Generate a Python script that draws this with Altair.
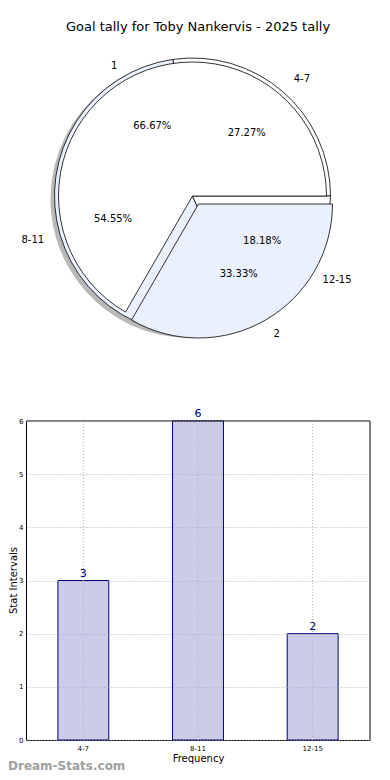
import math
import altair as alt
import pandas as pd

TITLE = "Goal tally for Toby Nankervis - 2025 tally"

# pie 1 : goal tally
tally_labels = ["1", "2"]
tally_values = [2, 1]
# pie 2 / bars : stat intervals
interval_labels = ["4-7", "8-11", "12-15"]
interval_values = [3, 6, 2]

y_ticks = [0, 1, 2, 3, 4, 5, 6]


def pie_frame(labels, values):
    total = sum(values)
    rows, acc = [], 0
    for lab, val in zip(labels, values):
        start = acc / total
        acc += val
        end = acc / total
        rows.append(dict(label=lab, value=val, start=start, end=end,
                         mid=(start + end) / 2,
                         pct=f"{100 * val / total:.2f}%"))
    return pd.DataFrame(rows)


tally_df = pie_frame(tally_labels, tally_values)
interval_df = pie_frame(interval_labels, interval_values)

PAD_L, PAD_T, PAD_R, PAD_B = 18, 30, 12, 32
W, H = 344, 702
CX, CY = 192.5 - 8 - PAD_L, 196 - 8 - PAD_T
R_A, R_B = 134, 138
EX, EY = 6, 8  # explode offset of wedge "2"
LABEL_DIST = 1.12

FONT = "DejaVu Sans"
BLUE = "#eaf0fc"

theta_scale = alt.Scale(domain=[0, 1], range=[5 * math.pi / 2, math.pi / 2])
color_scale = alt.Scale(domain=tally_labels + interval_labels,
                        range=["#ffffff", BLUE, "#ffffff", BLUE, "#ffffff"])


def wedges(df, r, cx, cy, flt=None):
    ch = alt.Chart(df)
    if flt is not None:
        ch = ch.transform_filter(flt)
    return ch.mark_arc(stroke="black", strokeWidth=0.8).encode(
        theta=alt.Theta("start:Q", scale=theta_scale),
        theta2="end:Q",
        radius=alt.value(r),
        x=alt.value(cx), y=alt.value(cy),
        color=alt.Color("label:N", scale=color_scale, legend=None),
    )


def pct_text(df, r, cx, cy, flt=None):
    ch = alt.Chart(df)
    if flt is not None:
        ch = ch.transform_filter(flt)
    return ch.mark_text(fontSize=10, font=FONT, color="black").encode(
        theta=alt.Theta("mid:Q", scale=theta_scale),
        radius=alt.value(r * 0.6),
        x=alt.value(cx), y=alt.value(cy),
        text="pct:N",
    )


def outer_text(df, r, cx, cy, flt=None):
    out = []
    for side, align in (("cos(2*PI*datum.mid) > 0", "left"),
                        ("cos(2*PI*datum.mid) <= 0", "right")):
        ch = alt.Chart(df)
        if flt is not None:
            ch = ch.transform_filter(flt)
        ch = ch.transform_filter(side).mark_text(
            fontSize=10, font=FONT, color="black", align=align, baseline="middle"
        ).encode(
            theta=alt.Theta("mid:Q", scale=theta_scale),
            radius=alt.value(r * LABEL_DIST),
            x=alt.value(cx), y=alt.value(cy),
            text="label:N",
        )
        out.append(ch)
    return out


shadow = alt.Chart(interval_df).mark_arc(color="#808080", opacity=0.55).encode(
    theta=alt.Theta("start:Q", scale=theta_scale),
    theta2="end:Q",
    radius=alt.value(R_B + 1),
    x=alt.value(CX - 3), y=alt.value(CY + 3),
)

pie_layers = [
    shadow,
    wedges(interval_df, R_B, CX, CY),
    wedges(tally_df, R_A, CX, CY, alt.datum.label == "1"),
    wedges(tally_df, R_A, CX + EX, CY + EY, alt.datum.label == "2"),
    pct_text(interval_df, R_B, CX, CY),
    pct_text(tally_df, R_A, CX, CY, alt.datum.label == "1"),
    pct_text(tally_df, R_A, CX + EX, CY + EY, alt.datum.label == "2"),
]
pie_layers += outer_text(interval_df, R_B, CX, CY)
pie_layers += outer_text(tally_df, R_A, CX, CY, alt.datum.label == "1")
pie_layers += outer_text(tally_df, R_A, CX + EX, CY + EY, alt.datum.label == "2")

x_enc = alt.X(
    "label:N", sort=interval_labels,
    scale=alt.Scale(paddingInner=0.556, paddingOuter=0.278),
    axis=alt.Axis(title="Frequency", labelFontSize=7, labelFont=FONT,
                  titleFont=FONT, titleFontSize=10, titleFontWeight="normal",
                  labelAngle=0, ticks=False, grid=False, labelPadding=4,
                  titlePadding=2, domainColor="black", labelColor="black",
                  titleColor="black"),
)
y_scale = alt.Scale(domain=[0, 6], range=[H, 383])
y_enc = alt.Y(
    "value:Q", scale=y_scale,
    axis=alt.Axis(title="Stat Intervals", values=y_ticks, format="d",
                  labelFontSize=7, labelFont=FONT, titleFont=FONT,
                  titleFontSize=10, titleFontWeight="normal", ticks=False,
                  labelPadding=3, grid=True, gridColor="#b0b0b0",
                  gridDash=[1, 2], gridWidth=1, domainColor="black",
                  labelColor="black", titleColor="black",
                  titleX=-(PAD_L - 5), titleY=542, titleAngle=-90,
                  titleBaseline="middle", titleAlign="center", zindex=1),
)

bars = alt.Chart(interval_df).mark_bar(
    fill="#cccce6", stroke="#000080", strokeWidth=1
).encode(x=x_enc, y=y_enc)

vgrid = alt.Chart(interval_df).mark_rule(
    color="#b0b0b0", strokeDash=[1, 2], strokeWidth=1
).encode(
    x=alt.X("label:N", sort=interval_labels),
    y=alt.datum(0), y2=alt.datum(6),
)

bar_text = alt.Chart(interval_df).mark_text(
    fontSize=11, font=FONT, color="#000080", baseline="bottom", dy=-2
).encode(
    x=alt.X("label:N", sort=interval_labels),
    y=alt.Y("value:Q"),
    text="value:Q",
)

frame_top = alt.Chart(interval_df.head(1)).mark_rule(color="black", strokeWidth=1).encode(
    x=alt.value(0), x2=alt.value(W), y=alt.datum(6)
)
frame_right = alt.Chart(interval_df.head(1)).mark_rule(color="black", strokeWidth=1).encode(
    x=alt.value(W), y=alt.datum(0), y2=alt.datum(6)
)

watermark = alt.Chart(pd.DataFrame({"t": ["Dream-Stats.com"]})).mark_text(
    fontSize=12, font=FONT, fontWeight="bold", color="#a0a0a0",
    align="left", baseline="middle"
).encode(x=alt.value(-PAD_L), y=alt.value(728), text="t:N")

chart = alt.layer(
    *pie_layers, bars, vgrid, bar_text, frame_top, frame_right, watermark
).properties(
    width=W, height=H,
    title=alt.TitleParams(TITLE, fontSize=13, font=FONT, fontWeight="normal",
                          anchor="middle", offset=4, color="black"),
    autosize=alt.AutoSizeParams(type="none"),
    padding={"left": PAD_L, "top": PAD_T, "right": PAD_R, "bottom": PAD_B},
).configure_view(stroke=None)

chart.save("out.html", embed_options={"renderer": "svg", "actions": False})
